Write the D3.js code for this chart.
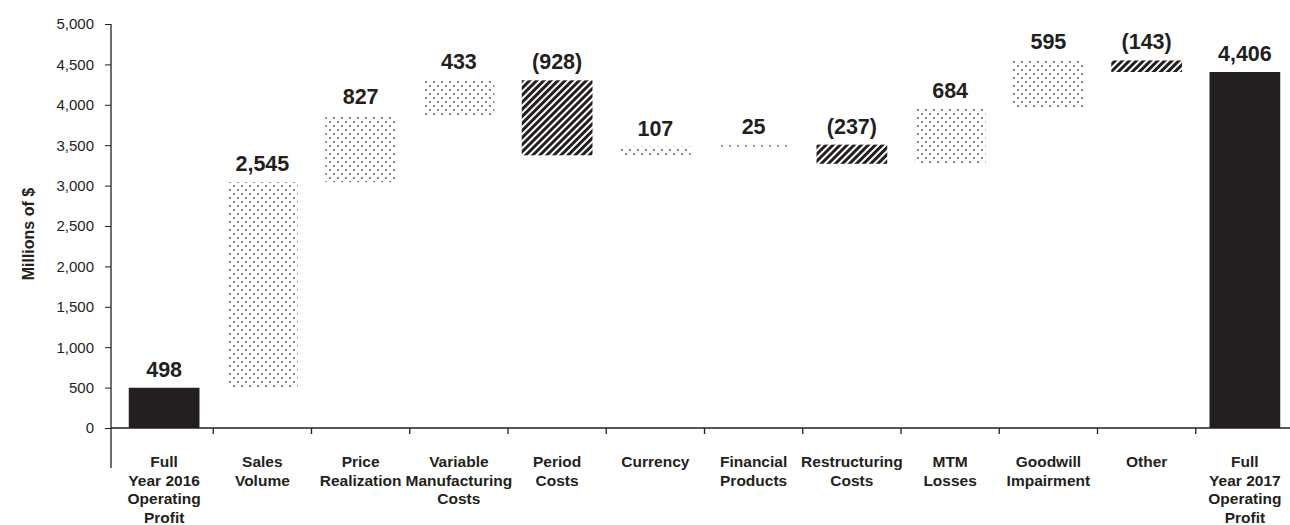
<!DOCTYPE html>
<html>
<head>
<meta charset="utf-8">
<script src="https://cdn.jsdelivr.net/npm/d3@7"></script>
<style>
  html, body { margin: 0; padding: 0; background: #fff; }
  svg { display: block; }
  text { font-family: "Liberation Sans", Arial, Helvetica, sans-serif; fill: #231f20; }
</style>
</head>
<body>
<svg id="chart" width="1290" height="525"></svg>
<script>
// Operating profit bridge, full year 2016 to full year 2017 (millions of $)
const categories = [
  ["Full", "Year 2016", "Operating", "Profit"],
  ["Sales", "Volume"],
  ["Price", "Realization"],
  ["Variable", "Manufacturing", "Costs"],
  ["Period", "Costs"],
  ["Currency"],
  ["Financial", "Products"],
  ["Restructuring", "Costs"],
  ["MTM", "Losses"],
  ["Goodwill", "Impairment"],
  ["Other"],
  ["Full", "Year 2017", "Operating", "Profit"]
];
const values = [498, 2545, 827, 433, -928, 107, 25, -237, 684, 595, -143, 4406];
const kinds  = ["total", "step", "step", "step", "step", "step", "step", "step", "step", "step", "step", "total"];
const yTicks = [0, 500, 1000, 1500, 2000, 2500, 3000, 3500, 4000, 4500, 5000];

// Running totals give each floating bar its start and end
let running = 0;
const bars = values.map((v, i) => {
  let start, end;
  if (kinds[i] === "total") { start = 0; end = v; running = v; }
  else { start = running; end = running + v; running = end; }
  return { i, v, kind: kinds[i], lo: Math.min(start, end), hi: Math.max(start, end) };
});

const svg = d3.select("#chart");
const ink = "#231f20";

const x = d3.scaleBand()
  .domain(d3.range(categories.length))
  .range([115, 1294])
  .paddingInner(0.28)
  .paddingOuter(0.14);
const y = d3.scaleLinear().domain([0, 5000]).range([428, 24]);

// Fill patterns: dotted for increases, diagonal hatching for decreases
const defs = svg.append("defs");
const dots = defs.append("pattern")
  .attr("id", "dots").attr("patternUnits", "userSpaceOnUse")
  .attr("width", 8).attr("height", 8);
dots.append("rect").attr("width", 8).attr("height", 8).attr("fill", "#fff");
dots.append("rect").attr("x", 1).attr("y", 1).attr("width", 2).attr("height", 2).attr("fill", "#858585");
dots.append("rect").attr("x", 5).attr("y", 5).attr("width", 2).attr("height", 2).attr("fill", "#858585");

const hatch = defs.append("pattern")
  .attr("id", "hatch").attr("patternUnits", "userSpaceOnUse")
  .attr("width", 5).attr("height", 5)
  .attr("patternTransform", "rotate(45)");
hatch.append("rect").attr("width", 5).attr("height", 5).attr("fill", "#fff");
hatch.append("rect").attr("width", 3).attr("height", 5).attr("fill", ink);

// Bars
svg.append("g").selectAll("rect")
  .data(bars)
  .join("rect")
  .attr("x", d => x(d.i))
  .attr("width", x.bandwidth())
  .attr("y", d => y(d.hi))
  .attr("height", d => Math.max(1, y(d.lo) - y(d.hi)))
  .attr("fill", d => d.kind === "total" ? ink : (d.v >= 0 ? "url(#dots)" : "url(#hatch)"));

// Value labels
const fmt = d3.format(",");
svg.append("g").selectAll("text")
  .data(bars)
  .join("text")
  .attr("x", d => x(d.i) + x.bandwidth() / 2)
  .attr("y", d => y(d.hi) - 11)
  .attr("text-anchor", "middle")
  .attr("font-size", 21.5)
  .attr("font-weight", "bold")
  .text(d => d.v < 0 ? "(" + fmt(-d.v) + ")" : fmt(d.v));

// Y axis
const yAxis = svg.append("g")
  .attr("transform", "translate(111,0)")
  .call(d3.axisLeft(y).tickValues(yTicks).tickFormat(fmt).tickSize(6).tickPadding(11));
yAxis.select(".domain").remove();
yAxis.selectAll(".tick line").attr("stroke", ink);
yAxis.selectAll(".tick text")
  .attr("font-size", 15)
  .attr("fill", ink)
  .style("font-family", '"Liberation Sans", Arial, Helvetica, sans-serif');
svg.append("line")
  .attr("x1", 111).attr("x2", 111)
  .attr("y1", y(5000)).attr("y2", 468)
  .attr("stroke", ink).attr("stroke-width", 1.3);

// Axis title
svg.append("text")
  .attr("transform", `translate(34,${y(2400)}) rotate(-90)`)
  .attr("text-anchor", "middle")
  .attr("font-size", 16)
  .attr("font-weight", "bold")
  .text("Millions of $");

// X axis baseline and boundary ticks
svg.append("line")
  .attr("x1", 111).attr("x2", 1290)
  .attr("y1", y(0)).attr("y2", y(0))
  .attr("stroke", ink).attr("stroke-width", 1.3);
const step = x.step();
const bounds = d3.range(1, categories.length).map(k => x(k) - step * x.paddingInner() / 2);
svg.append("g").selectAll("line")
  .data(bounds)
  .join("line")
  .attr("x1", d => d).attr("x2", d => d)
  .attr("y1", y(0)).attr("y2", y(0) + 6)
  .attr("stroke", ink).attr("stroke-width", 1.3);

// Category labels
const cat = svg.append("g").selectAll("text")
  .data(categories)
  .join("text")
  .attr("text-anchor", "middle")
  .attr("font-size", 15.5)
  .attr("font-weight", "bold");
cat.each(function (lines, i) {
  const cx = x(i) + x.bandwidth() / 2;
  d3.select(this).selectAll("tspan")
    .data(lines)
    .join("tspan")
    .attr("x", cx)
    .attr("y", (l, j) => 467 + j * 18.5)
    .text(l => l);
});
</script>
</body>
</html>
